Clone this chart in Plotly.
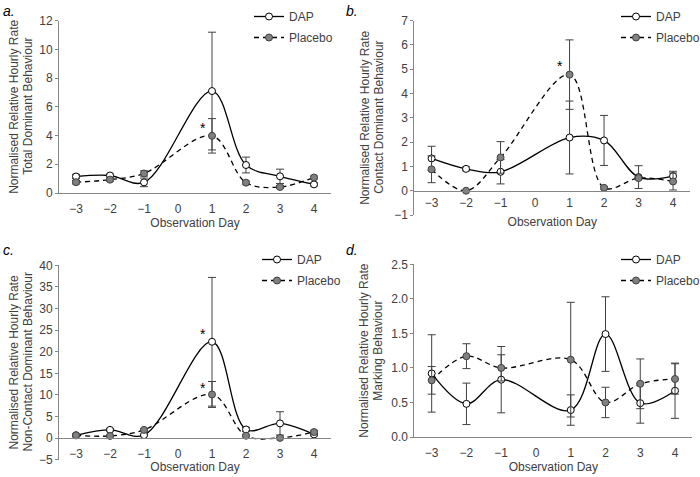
import plotly.graph_objects as go

days = [-3, -2, -1, 1, 2, 3, 4]
tick_days = [-3, -2, -1, 0, 1, 2, 3, 4]

# Panel a: Total Dominant Behaviour
a_dap = [1.15, 1.22, 0.74, 7.1, 1.95, 1.16, 0.6]
a_dap_err = [0.15, 0.1, 0.3, 4.1, 0.55, 0.5, 0.1]
a_pla = [0.75, 0.93, 1.36, 3.98, 0.72, 0.42, 1.08]
a_pla_err = [0.12, 0.1, 0.18, 1.2, 0.1, 0.1, 0.1]

# Panel b: Contact Dominant Behaviour
b_dap = [1.33, 0.9, 0.78, 2.19, 2.07, 0.56, 0.6]
b_dap_err = [0.5, 0.08, 0.5, 1.5, 1.03, 0.47, 0.2]
b_pla = [0.88, 0.0, 1.37, 4.78, 0.12, 0.52, 0.38]
b_pla_err = [0.55, 0.0, 0.65, 1.43, 0.05, 0.05, 0.35]

# Panel c: Non-Contact Dominant Behaviour
c_dap = [0.65, 1.9, 0.7, 22.3, 2.0, 3.4, 0.85]
c_dap_err = [0.2, 0.3, 0.2, 14.9, 0.5, 2.7, 0.3]
c_pla = [0.65, 0.5, 1.9, 10.1, 0.55, 0.05, 1.4]
c_pla_err = [0.2, 0.2, 0.3, 3.0, 0.2, 0.1, 0.4]

# Panel d: Marking Behaviour
d_dap = [0.92, 0.48, 0.83, 0.39, 1.49, 0.49, 0.67]
d_dap_err = [0.56, 0.3, 0.48, 0.22, 0.54, 0.29, 0.4]
d_pla = [0.82, 1.17, 1.0, 1.12, 0.5, 0.77, 0.84]
d_pla_err = [0.2, 0.18, 0.19, 0.83, 0.22, 0.36, 0.22]

y_title_line1 = "Normalised Relative Hourly Rate"
y_title_line2 = [
    "Total Dominant Behaviour",
    "Contact Dominant Behaviour",
    "Non-Contact Dominant Behaviour",
    "Marking Behaviour",
]
panel_labels = ["a.", "b.", "c.", "d."]

FONT = "Liberation Sans, Arial, sans-serif"
TXT = "#404040"
W, H = 700, 477

panels = [
    dict(dap=a_dap, dap_err=a_dap_err, pla=a_pla, pla_err=a_pla_err,
         xpx=(59, 331), ypx=(193, 20.7), yr=(0, 12), dtick=2, fmt="", zero_px=None,
         leg=(249, 2), stars=[(0.73, 4.55)], lab=(1, 1), ytx=(14, 28), tls=5, tstand=3),
    dict(dap=b_dap, dap_err=b_dap_err, pla=b_pla, pla_err=b_pla_err,
         xpx=(414.3, 690.3), ypx=(215, 20.7), yr=(-1, 7), dtick=1, fmt="", zero_px=191,
         leg=(616, 2), stars=[(0.72, 5.15)], lab=(344, 1), ytx=(365, 379), tls=1, tstand=8),
    dict(dap=c_dap, dap_err=c_dap_err, pla=c_pla, pla_err=c_pla_err,
         xpx=(59, 331), ypx=(459.7, 265.3), yr=(-5, 40), dtick=5, fmt="", zero_px=438.1,
         leg=(257, 245), stars=[(0.73, 24.2), (0.73, 11.5)], lab=(1, 240), ytx=(13, 27), tls=4, tstand=2),
    dict(dap=d_dap, dap_err=d_dap_err, pla=d_pla, pla_err=d_pla_err,
         xpx=(414.3, 692.4), ypx=(437, 264.3), yr=(0, 2.5), dtick=0.5, fmt=".1f", zero_px=None,
         leg=(616, 245), stars=[], lab=(344, 240), ytx=(364, 378), tls=5, tstand=2),
]

fig = go.Figure()
layout = dict(
    width=W, height=H, margin=dict(l=0, r=0, t=0, b=0, autoexpand=False),
    paper_bgcolor="white", plot_bgcolor="white",
    font=dict(family=FONT, size=12, color=TXT),
)
annotations = []

for i, p in enumerate(panels):
    n = i + 1
    xa = "x" if n == 1 else f"x{n}"
    ya = "y" if n == 1 else f"y{n}"
    leg = "legend" if n == 1 else f"legend{n}"
    xdom = [p["xpx"][0] / W, p["xpx"][1] / W]
    ydom = [1 - p["ypx"][0] / H, 1 - p["ypx"][1] / H]

    fig.add_trace(go.Scatter(
        x=days, y=p["dap"], name="DAP", mode="lines+markers",
        xaxis=xa, yaxis=ya, legend=leg, legendgroup=f"dap{n}",
        line=dict(color="black", width=1.3, shape="spline", smoothing=1.0),
        marker=dict(symbol="circle", size=7, color="white", line=dict(color="black", width=1)),
        error_y=dict(type="data", array=p["dap_err"], visible=True, color="#404040", thickness=1, width=4),
    ))
    fig.add_trace(go.Scatter(
        x=days, y=p["pla"], name="Placebo", mode="lines+markers",
        xaxis=xa, yaxis=ya, legend=leg, legendgroup=f"pla{n}",
        line=dict(color="black", width=1.3, shape="spline", smoothing=1.0, dash="5px,4px"),
        marker=dict(symbol="circle", size=7, color="#808080", line=dict(color="#404040", width=1)),
        error_y=dict(type="data", array=p["pla_err"], visible=True, color="#404040", thickness=1, width=4),
    ))

    xkey = "xaxis" if n == 1 else f"xaxis{n}"
    ykey = "yaxis" if n == 1 else f"yaxis{n}"
    xdef = dict(
        domain=xdom, range=[-3.5, 4.5], tickvals=tick_days, ticks="", automargin=False,
        showline=True, linecolor="#868686", linewidth=1, showgrid=False, zeroline=False,
        tickfont=dict(size=12, color=TXT), ticklabelstandoff=p["tls"],
        title=dict(text="Observation Day", font=dict(size=12, color=TXT), standoff=p["tstand"]),
    )
    if p["zero_px"] is not None:
        xdef.update(anchor="free", position=1 - p["zero_px"] / H)
    else:
        xdef.update(anchor=ya)
    layout[xkey] = xdef
    layout[ykey] = dict(
        domain=ydom, range=list(p["yr"]), dtick=p["dtick"], tick0=0, tickformat=p["fmt"],
        anchor=xa, showline=True, linecolor="#868686", linewidth=1, showgrid=False,
        zeroline=False, ticks="outside", ticklen=3, tickcolor="#868686", automargin=False,
        tickfont=dict(size=12, color=TXT),
    )
    layout[leg] = dict(
        x=p["leg"][0] / W, y=1 - p["leg"][1] / H, xanchor="left", yanchor="top",
        xref="paper", yref="paper", tracegroupgap=2,
        bgcolor="rgba(0,0,0,0)", font=dict(size=12, color=TXT), borderwidth=0,
    )
    ymid = (ydom[0] + ydom[1]) / 2
    for tx, txt in zip(p["ytx"], [y_title_line1, y_title_line2[i]]):
        annotations.append(dict(
            text=txt, textangle=-90, xref="paper", yref="paper",
            x=tx / W, y=ymid, xanchor="center", yanchor="middle",
            showarrow=False, font=dict(size=12, color=TXT),
        ))
    annotations.append(dict(
        text=f"<i>{panel_labels[i]}</i>", xref="paper", yref="paper",
        x=p["lab"][0] / W, y=1 - p["lab"][1] / H, xanchor="left", yanchor="top",
        showarrow=False, font=dict(size=14, color="black"),
    ))
    for sx, sy in p["stars"]:
        annotations.append(dict(
            text="*", x=sx, y=sy, xref=xa, yref=ya, showarrow=False,
            font=dict(size=14, color="black"), xanchor="center", yanchor="middle",
        ))

layout["annotations"] = annotations
layout["showlegend"] = True
fig.update_layout(**layout)
fig.write_html("out.html", config={"displayModeBar": False},
               post_script="document.body.style.margin='0';")
